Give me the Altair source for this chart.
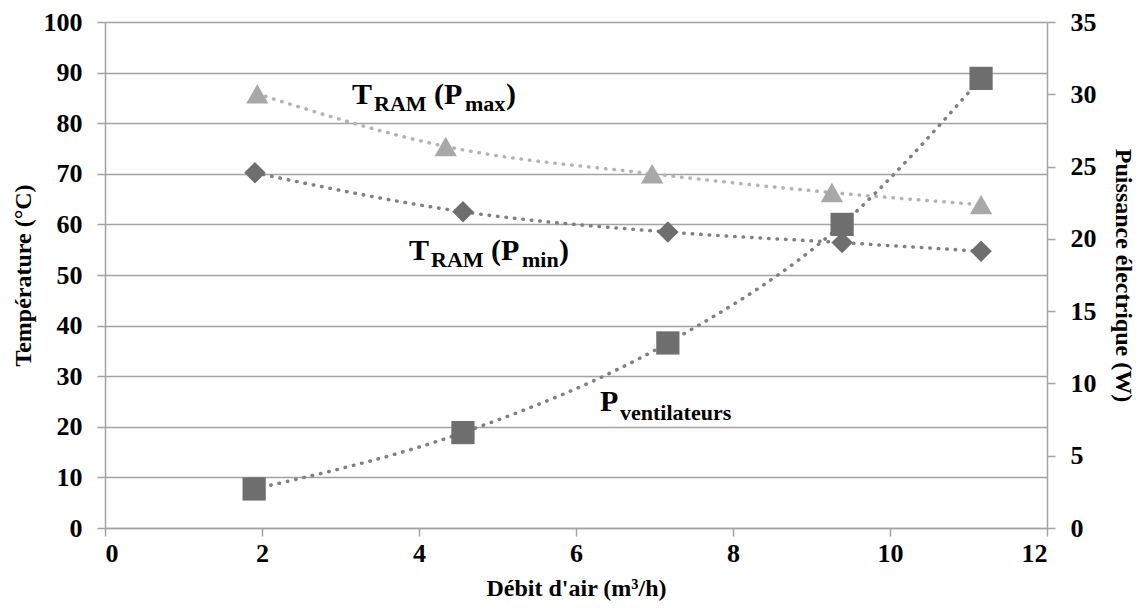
import altair as alt
import pandas as pd

# ---- data ----
x_pmax = [1.94, 4.34, 6.97, 9.26, 11.16]
t_pmax = [85.8, 75.4, 70.0, 66.3, 63.9]

x_pmin = [1.91, 4.56, 7.17, 9.39, 11.16]
t_pmin = [70.2, 62.5, 58.5, 56.4, 54.7]

x_fan = [1.90, 4.56, 7.17, 9.39, 11.16]
p_fan = [2.7, 6.6, 12.8, 21.0, 31.1]

x_ticks = [0, 2, 4, 6, 8, 10, 12]
t_ticks = [0, 10, 20, 30, 40, 50, 60, 70, 80, 90, 100]
p_ticks = [0, 5, 10, 15, 20, 25, 30, 35]

# annotation pieces (data units of x / temperature axis)
ann_text = ["T", "RAM", "(P", "max", ")",
            "T", "RAM", "(P", "min", ")",
            "P", "ventilateurs"]
ann_x = [3.146, 3.427, 4.191, 4.586, 5.108,
         3.873, 4.153, 4.917, 5.312, 5.783,
         6.306, 6.561]
ann_y = [83.8, 82.4, 83.8, 82.4, 83.8,
         53.0, 51.6, 53.0, 51.6, 53.0,
         23.1, 21.3]
ann_size = [30, 22, 30, 22, 30,
            30, 22, 30, 22, 30,
            30, 22]

FONT = "Liberation Serif"
GRID = "#a3a3a3"
LIGHT = "#a8a8a8"
DARK = "#6e6e6e"
DOTS_DARK = "#808080"
DOTS_LIGHT = "#b3b3b3"

df_max = pd.DataFrame({"x": x_pmax, "t": t_pmax})
df_min = pd.DataFrame({"x": x_pmin, "t": t_pmin})
df_fan = pd.DataFrame({"x": x_fan, "p": p_fan})
df_ann = pd.DataFrame({"text": ann_text, "x": ann_x, "y": ann_y, "size": ann_size})

lab = dict(labelFont=FONT, labelFontSize=26, labelFontWeight="bold", labelColor="black",
           titleFont=FONT, titleFontSize=24, titleFontWeight="bold", titleColor="black",
           domainColor=GRID, domainWidth=1.5, tickColor=GRID, tickWidth=1.5)

x_enc = alt.X(
    "x:Q",
    scale=alt.Scale(domain=[0, 12], nice=False),
    axis=alt.Axis(
        values=x_ticks, format="d", grid=False, title="Débit d'air (m³/h)",
        tickSize=8, labelPadding=4, titlePadding=10, **lab,
    ),
)

t_scale = alt.Scale(domain=[0, 100], nice=False)
t_axis = alt.Axis(
    values=t_ticks, format="d", grid=True, title="Température (°C)", orient="left",
    tickSize=8, labelPadding=15, titlePadding=8,
    gridColor=GRID, gridWidth=1.5, gridOpacity=1, **lab,
)

dot_line = dict(strokeDash=[0.5, 8], strokeCap="round", strokeWidth=3.5, interpolate="monotone")

line_max = alt.Chart(df_max).mark_line(color=DOTS_LIGHT, **dot_line).encode(
    x=x_enc, y=alt.Y("t:Q", scale=t_scale, axis=t_axis))
pts_max = alt.Chart(df_max).mark_point(shape="triangle-up", size=500, filled=True,
                                       color=LIGHT, opacity=1).encode(
    x="x:Q", y=alt.Y("t:Q", scale=t_scale))

line_min = alt.Chart(df_min).mark_line(color=DOTS_DARK, **dot_line).encode(
    x="x:Q", y=alt.Y("t:Q", scale=t_scale))
pts_min = alt.Chart(df_min).mark_point(shape="diamond", size=460, filled=True,
                                       color=DARK, opacity=1).encode(
    x="x:Q", y=alt.Y("t:Q", scale=t_scale))

ann = alt.Chart(df_ann).mark_text(font=FONT, fontWeight="bold", color="black",
                                  align="left", baseline="alphabetic").encode(
    x="x:Q", y=alt.Y("y:Q", scale=t_scale), text="text:N",
    size=alt.Size("size:Q", scale=None, legend=None))

left = alt.layer(line_max, pts_max, line_min, pts_min, ann)

p_scale = alt.Scale(domain=[0, 35], nice=False)
p_axis = alt.Axis(values=p_ticks, format="d", grid=False, title="Puissance électrique (W)",
                  orient="right", tickSize=8, labelPadding=15, titlePadding=14, **lab)

line_fan = alt.Chart(df_fan).mark_line(color=DOTS_DARK, **dot_line).encode(
    x="x:Q", y=alt.Y("p:Q", scale=p_scale, axis=p_axis))
pts_fan = alt.Chart(df_fan).mark_point(shape="square", size=540, filled=True,
                                       color=DARK, opacity=1).encode(
    x="x:Q", y=alt.Y("p:Q", scale=p_scale))

right = alt.layer(line_fan, pts_fan)

chart = alt.layer(left, right).resolve_scale(y="independent").properties(
    width=942, height=506,
    background="white",
    autosize=alt.AutoSizeParams(type="none"),
    padding={"left": 105, "top": 22, "right": 92, "bottom": 82},
).configure(font=FONT).configure_view(stroke=None)

chart.save("out.html", embed_options={"renderer": "svg", "actions": False})
